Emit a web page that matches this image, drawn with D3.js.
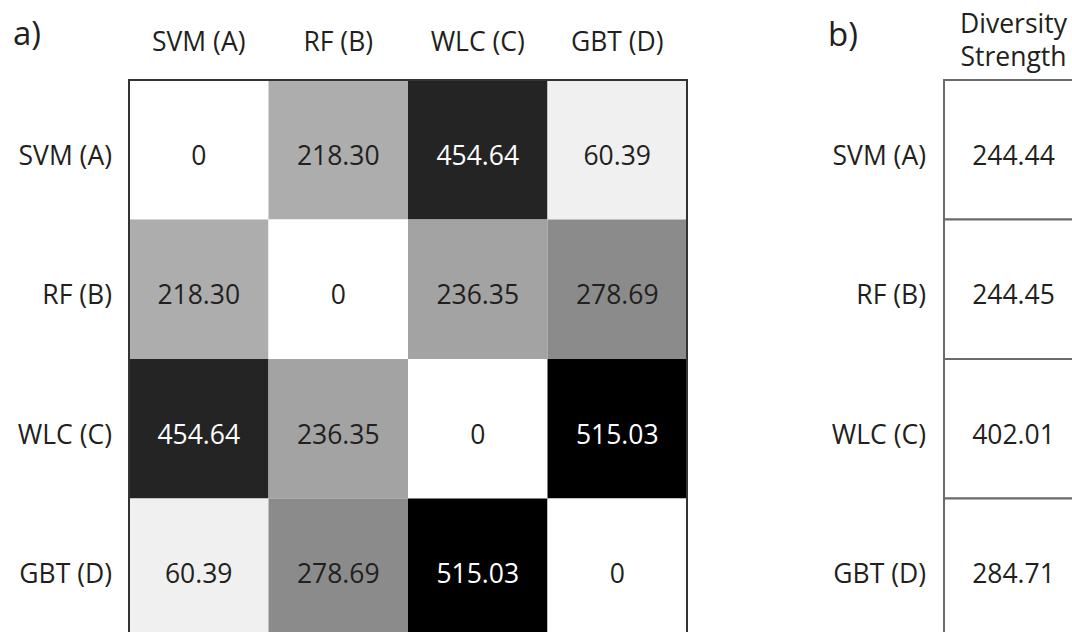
<!DOCTYPE html>
<html>
<head>
<meta charset="utf-8">
<script src="https://cdn.jsdelivr.net/npm/d3@7"></script>
<style>
  html, body { margin: 0; padding: 0; background: #fff; }
  svg { display: block; }
  text { font-family: "Open Sans", "Noto Sans", sans-serif; fill: #231f20; }
</style>
</head>
<body>
<svg id="chart" width="1072" height="632"></svg>
<script>
// Classifier names (rows and columns of the pairwise matrix)
const models = ["SVM (A)", "RF (B)", "WLC (C)", "GBT (D)"];

// Pairwise diversity distances, one array per row
const rowSVM = [0, 218.30, 454.64, 60.39];
const rowRF  = [218.30, 0, 236.35, 278.69];
const rowWLC = [454.64, 236.35, 0, 515.03];
const rowGBT = [60.39, 278.69, 515.03, 0];
const distances = [rowSVM, rowRF, rowWLC, rowGBT];

// Overall diversity strength per classifier
const diversity = [244.44, 244.45, 402.01, 284.71];
const diversityHeader = ["Diversity", "Strength"];

const svg = d3.select("#chart");

const fmt = v => v === 0 ? "0" : d3.format(".2f")(v);
const maxVal = d3.max(distances.flat());
const color = d3.scaleSequential(d3.interpolateGreys).domain([0, maxVal]);

// ---------- panel a: pairwise matrix ----------
const x = d3.scaleBand().domain(models).range([129, 687]);
const y = d3.scaleBand().domain(models).range([80, 638]);

const cells = [];
distances.forEach((row, i) => row.forEach((v, j) => cells.push({ r: models[i], c: models[j], v })));

const gA = svg.append("g");
gA.selectAll("rect.cell").data(cells).join("rect")
  .attr("class", "cell")
  .attr("x", d => x(d.c)).attr("y", d => y(d.r))
  .attr("width", x.bandwidth()).attr("height", y.bandwidth())
  .attr("fill", d => color(d.v));

gA.selectAll("text.val").data(cells).join("text")
  .attr("class", "val")
  .attr("x", d => x(d.c) + x.bandwidth() / 2)
  .attr("y", d => y(d.r) + y.bandwidth() / 2 + 15)
  .attr("text-anchor", "middle")
  .style("font-size", "26.5px")
  .style("fill", d => d.v > maxVal * 0.75 ? "#ffffff" : "#231f20")
  .text(d => fmt(d.v));

gA.append("rect")
  .attr("x", x.range()[0]).attr("y", y.range()[0])
  .attr("width", x.range()[1] - x.range()[0])
  .attr("height", y.range()[1] - y.range()[0])
  .attr("fill", "none").attr("stroke", "#333").attr("stroke-width", 2);

gA.selectAll("text.colh").data(models).join("text")
  .attr("class", "colh")
  .attr("x", d => x(d) + x.bandwidth() / 2).attr("y", 51)
  .attr("text-anchor", "middle").style("font-size", "26.5px")
  .text(d => d);

gA.selectAll("text.rowh").data(models).join("text")
  .attr("class", "rowh")
  .attr("x", 112).attr("y", d => y(d) + y.bandwidth() / 2 + 15)
  .attr("text-anchor", "end").style("font-size", "26.5px")
  .text(d => d);

gA.append("text").attr("x", 13).attr("y", 45)
  .style("font-size", "33px").text("a)");

// ---------- panel b: diversity strength ----------
const xb = d3.scaleBand().domain(["strength"]).range([944, 1083]);
const gB = svg.append("g");

gB.selectAll("rect.bcell").data(diversity).join("rect")
  .attr("class", "bcell")
  .attr("x", xb("strength")).attr("y", (d, i) => y(models[i]))
  .attr("width", xb.bandwidth()).attr("height", y.bandwidth())
  .attr("fill", "#fff").attr("stroke", "#6b6b6b").attr("stroke-width", 2);

gB.selectAll("text.bval").data(diversity).join("text")
  .attr("class", "bval")
  .attr("x", xb("strength") + xb.bandwidth() / 2)
  .attr("y", (d, i) => y(models[i]) + y.bandwidth() / 2 + 15)
  .attr("text-anchor", "middle").style("font-size", "26.5px")
  .text(d => fmt(d));

gB.selectAll("text.browh").data(models).join("text")
  .attr("class", "browh")
  .attr("x", 926).attr("y", d => y(d) + y.bandwidth() / 2 + 15)
  .attr("text-anchor", "end").style("font-size", "26.5px")
  .text(d => d);

gB.selectAll("text.bhead").data(diversityHeader).join("text")
  .attr("class", "bhead")
  .attr("x", xb("strength") + xb.bandwidth() / 2)
  .attr("y", (d, i) => 33 + i * 33)
  .attr("text-anchor", "middle").style("font-size", "26.5px")
  .text(d => d);

gB.append("text").attr("x", 828).attr("y", 46)
  .style("font-size", "33px").text("b)");
</script>
</body>
</html>
